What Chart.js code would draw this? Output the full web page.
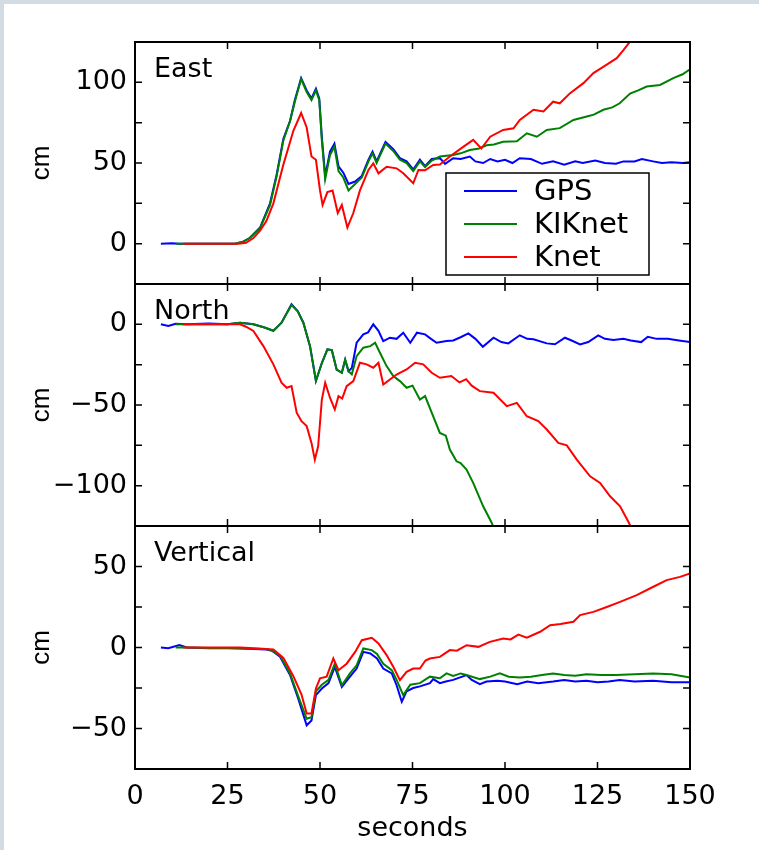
<!DOCTYPE html>
<html>
<head>
<meta charset="utf-8">
<script src="https://cdn.jsdelivr.net/npm/chart.js@4.4.0/dist/chart.umd.min.js"></script>
<style>
  html, body { margin: 0; padding: 0; background: #fff; }
  #page { position: relative; width: 759px; height: 850px; overflow: hidden; background: #fff; }
  #page canvas { position: absolute; left: 0; top: 0; }
  .edge-top { position: absolute; left: 0; top: 0; width: 759px; height: 4px; background: #d3dbe3; }
  .edge-left { position: absolute; left: 0; top: 0; width: 4px; height: 850px; background: #d3dbe3; }
</style>
</head>
<body>
<div id="page">
  <canvas id="east" width="759" height="850"></canvas>
  <canvas id="north" width="759" height="850"></canvas>
  <canvas id="vert" width="759" height="850"></canvas>
  <div class="edge-top"></div>
  <div class="edge-left"></div>
</div>
<script>
// ---- DATA (seconds, cm) ----
const seriesNames = ["GPS", "KIKnet", "Knet"];
const xTicks = [0, 25, 50, 75, 100, 125, 150];

const eastRange = [-25, 125];
const eastTicks = [0, 50, 100];
const eastMinor = [0, 25, 50, 75, 100];
const northRange = [-125, 25];
const northTicks = [-100, -50, 0];
const northMinor = [-100, -75, -50, -25, 0];
const vertRange = [-75, 75];
const vertTicks = [-50, 0, 50];
const vertMinor = [-50, -25, 0, 25, 50];

const eastGPS = [[7,0],[10,0.3],[12,0],[20,0],[27,0],[29,1],[31,3.5],[33.8,10],[36.5,25],[38.3,43],[40.1,65],[41.9,76],[43.2,89],[44.9,102.6],[46.4,95],[47.7,90],[48.9,96],[49.8,90],[50.5,66],[51.4,42],[52.7,57],[53.9,62],[55,48],[56.3,44],[57.7,37],[59.5,38.5],[61.3,42],[63.1,52],[64.2,57],[65.3,51],[67.7,63],[69.8,58.5],[71.6,53],[73.4,51],[75.2,46],[77,52],[78.4,48],[80.2,52.5],[82.4,53],[83.8,49.5],[86,53],[88,52.5],[90.5,54],[92,51],[94.1,50],[96,52.5],[98,51],[100,52],[102,50],[104,53],[107,52.5],[110,49.5],[113,51],[116,49],[119,51],[121,50],[124.4,51.5],[127,50],[130,49.5],[132,51],[135,51],[137,52.4],[140,51],[142.4,50],[145,50.5],[148,50],[150,50.5]];
const eastKIK = [[11,0],[20,0],[27,0],[29,1],[31,3.5],[33.8,9.5],[36.5,24],[38.3,42],[40.1,64],[41.9,76],[43.2,88],[44.9,102],[46.4,94],[47.7,89],[48.9,95],[49.8,89],[50.5,64],[51.4,40],[52.7,55],[53.9,60],[55,45],[56.3,41],[57.7,33],[59.5,37],[61.3,41],[63.1,51],[64.2,56],[65.3,50],[67.7,62],[69.8,57.5],[71.6,52],[73.4,50],[75.2,45],[77,51],[78.4,47.5],[80.2,51.5],[82.4,54],[86,55],[88,56],[90.5,58],[93,59],[95,61],[97,61.5],[99.5,63.2],[103.2,63.5],[105.9,68.4],[108.6,66.3],[111.3,70.5],[114.8,71.6],[118.5,76.7],[122.1,78.8],[124,80],[126.6,83],[129,84.5],[131,87],[133.8,93],[136,95],[138.3,97.4],[141.9,98.4],[145.5,102.6],[148,105],[150,108]];
const eastKnet = [[13,0],[20,0],[28,0],[30,0.5],[32,3.5],[33.8,8],[35.5,14],[37.4,25],[40.1,49],[42.8,70],[44.9,81],[46.4,72],[47.7,54],[48.9,52],[50,33],[50.7,24],[52,32],[53.4,33],[54.8,19],[55.9,24],[57.4,10],[59,19],[60.8,33],[63.1,45.7],[64.4,49.8],[65.8,43.6],[68,47.7],[70.7,46.7],[72.5,43.6],[75.2,37.4],[76.6,45.7],[78.4,45.5],[80.6,48.8],[82.4,49],[85.1,54],[88.7,60],[91.4,64.3],[93.6,59],[96,66.3],[99.5,70.5],[102.3,71.5],[104,76.7],[107.7,83],[110.4,82],[113,88],[114.8,87],[117.6,93.3],[121.2,99.5],[123.9,105.7],[127.5,111],[130.2,115],[132,120],[134.2,126.4],[137,131]];

const northGPS = [[7,0],[9,-1],[11,0.3],[14,0],[20,0.5],[25,0],[28.4,1],[32,0],[35,-2],[37.4,-4],[39.6,1],[42.3,12.4],[44,8],[45.5,1],[47.3,-13.5],[48.9,-35],[50.5,-24],[52,-15.5],[53.2,-16],[54.5,-28],[55.9,-30],[56.8,-22],[57.7,-29],[58.6,-27],[59.9,-11.4],[61.7,-6.2],[63,-5],[64.4,0],[65.8,-4],[67.1,-10.4],[68.9,-8.3],[70.7,-9],[72.5,-5.2],[74.4,-11.4],[76.2,-5.2],[78.4,-6.2],[80,-9],[81.5,-11.4],[84.2,-10.4],[86,-10],[88,-8],[90.1,-5.6],[92,-9],[94,-13.9],[96.9,-8.3],[99,-11],[100.9,-11.8],[104,-6.8],[106,-9],[107.7,-9.3],[111.3,-11.8],[113.5,-12.4],[116.2,-8.3],[118,-10],[120.3,-12.4],[122.5,-11],[125.2,-6.8],[127,-9],[129.3,-9.7],[132,-9],[134,-10],[136.8,-11],[138.6,-7.7],[141,-9],[144,-9],[147,-10],[150,-11]];
const northKIK = [[11,0],[14,0],[20,0],[25,0],[28.4,1],[32,0],[35,-2],[37.4,-4],[39.6,1],[42.3,12],[44,8],[45.5,1],[47.3,-13.5],[48.9,-35],[50.5,-24],[52,-15.5],[53.2,-16],[54.5,-28],[55.9,-30],[56.8,-22],[57.7,-29],[58.6,-31],[59.9,-19.7],[61.7,-14.5],[63.6,-13.5],[64.9,-11.4],[66.2,-17.6],[68,-25.9],[69.8,-32],[71.6,-35.2],[73.4,-39.3],[75,-38],[77,-46.6],[78.4,-44.5],[80.6,-57],[82.4,-67.3],[84,-69],[85.1,-77.6],[86.9,-84.9],[88,-86],[89.6,-90],[91.4,-98.3],[94.1,-112.8],[96.4,-123],[98,-132]];
const northKnet = [[13,0],[20,0],[28.4,0],[30,-1.5],[32,-4.1],[34.7,-13.5],[37.4,-24.8],[39.6,-36.2],[41,-39.3],[42.3,-38.3],[43.7,-54.8],[45,-60],[46.4,-63.1],[47.7,-73.5],[48.6,-83.9],[49.5,-75.6],[50.5,-46.6],[51.4,-36.2],[52.7,-45.5],[54,-52.8],[55,-44.5],[56,-46],[57.2,-38.3],[59,-35.2],[60.8,-23.8],[62.6,-24.8],[64.4,-26.9],[65.8,-23.8],[67.1,-37.3],[68.9,-34.2],[70.7,-31.1],[73.4,-28],[75.7,-23.8],[77.9,-24.8],[80.2,-30],[82.4,-33.1],[85.5,-32],[87.7,-36],[89.5,-34],[91,-38],[93.2,-41.4],[96.9,-42.4],[100.5,-50.7],[103.2,-48.7],[105.9,-57],[109,-60],[111.3,-65.2],[114.4,-73.5],[116.7,-75],[119.4,-83.9],[123,-94.2],[125.7,-98.3],[128.4,-106.6],[131.1,-112.8],[133.3,-122.2],[135,-130]];

const vertGPS = [[7,0],[9,-0.5],[12,1.5],[14,0],[20,-0.5],[25,-0.5],[28.4,-0.6],[32,-1],[35.5,-1.2],[37,-2],[39.2,-5.7],[41.9,-17],[44.1,-31.5],[46.4,-48],[47.7,-45],[48.9,-29.4],[50.5,-25.3],[52.3,-22],[54,-12],[55.9,-24.3],[58.1,-18],[59.9,-13],[61.7,-2.7],[63.6,-3.7],[65.4,-6.8],[67.1,-13],[69.4,-16],[70.7,-23.3],[72.1,-33.5],[73.4,-27],[75.2,-25],[77,-24],[79.7,-22],[80.6,-19.5],[82.4,-22],[84,-21],[86,-20],[89.6,-17],[91,-20],[93.2,-22.6],[95,-21],[98,-20.5],[100,-21],[103.3,-22.6],[106,-21],[109,-22],[113,-21],[116,-20],[119,-21],[122,-20.5],[125,-21.5],[128,-21],[131,-20],[135,-21],[140,-20.5],[145,-21.5],[150,-21.4]];
const vertKIK = [[11,0],[14,0],[20,-0.3],[25,-0.3],[28.4,-0.5],[32,-0.8],[35.5,-1],[37,-1.8],[39.2,-5],[41.9,-16],[44.1,-30],[46.4,-44],[47.7,-43],[48.9,-27],[50.5,-23],[52.3,-20],[54,-10],[55.9,-23.3],[58.1,-16],[59.9,-11],[61.7,-0.6],[64,-1.6],[65.4,-4],[67.1,-10],[69.4,-14],[70.7,-20],[72.5,-29.4],[74.4,-23],[77,-22],[79.7,-18],[82.4,-19],[84.2,-16],[86,-17.5],[88,-16],[89.6,-17],[93.2,-19.5],[96,-18],[98.6,-16],[101,-18],[104,-18.5],[107,-18],[110,-17],[113,-16],[116,-17],[119,-17.5],[122,-16.5],[126,-17],[130,-17],[135,-16.5],[140,-16],[145,-16.5],[150,-18.5]];
const vertKnet = [[13,0],[20,0],[28.4,0],[32,-0.5],[37.4,-1.2],[40.1,-6.4],[42.8,-17.7],[45,-29],[46.4,-40.7],[47.7,-40.7],[48.9,-25.3],[50,-19],[51.8,-18],[53.6,-6.8],[55,-14],[57.2,-10],[59.5,-2.7],[61.3,4.5],[64,6],[65.8,2.5],[68,-4.7],[69.8,-11.9],[71.6,-20.2],[73.4,-15],[75.2,-13],[77,-13],[78.5,-8],[79.7,-6.8],[82.4,-5.8],[85.1,-1.6],[87,-2],[89.6,1.4],[92.8,0.4],[95.9,3.5],[99.5,5.6],[101.5,5],[103.6,8],[105.9,6],[109.5,9.7],[112.2,13.8],[115,14.5],[118.5,15.9],[120.3,20],[123.9,22],[127.5,25],[131.1,28.2],[135.6,32.3],[140.1,37.5],[143.7,41.6],[147.3,43.6],[150,45.7]];

// ---- LAYOUT ----
const PAGE_W = 759, PAGE_H = 850;
const PLOT_LEFT = 135, PLOT_RIGHT = 690;
const TICK = 7;
const colors = ["#0000ff", "#008000", "#ff0000"];
const FONT = '"DejaVu Sans", sans-serif';

const framePlugin = {
  id: "frame",
  afterDatasetsDraw(chart, args, opts) {
    const { ctx, chartArea: a, scales } = chart;
    ctx.save();
    ctx.strokeStyle = "#000";
    ctx.lineWidth = 1.5;
    ctx.beginPath();
    xTicks.forEach(v => {
      const px = scales.x.getPixelForValue(v);
      ctx.moveTo(px, a.top); ctx.lineTo(px, a.top + TICK);
      ctx.moveTo(px, a.bottom); ctx.lineTo(px, a.bottom - TICK);
    });
    opts.minor.forEach(v => {
      const py = scales.y.getPixelForValue(v);
      ctx.moveTo(a.left, py); ctx.lineTo(a.left + TICK, py);
      ctx.moveTo(a.right, py); ctx.lineTo(a.right - TICK, py);
    });
    ctx.stroke();
    ctx.lineWidth = 2;
    ctx.strokeRect(a.left, a.top, a.right - a.left, a.bottom - a.top);

    ctx.fillStyle = "#000";
    ctx.font = "27px " + FONT;
    ctx.textBaseline = "alphabetic";
    ctx.fillText(opts.name, a.left + 19, a.top + 35);

    if (opts.legend) {
      const bx = a.right - 244, by = a.top + 131, bw = 203, bh = 102;
      ctx.fillStyle = "#fff";
      ctx.fillRect(bx, by, bw, bh);
      ctx.lineWidth = 1.5;
      ctx.strokeRect(bx, by, bw, bh);
      ctx.font = "29px " + FONT;
      ctx.textBaseline = "middle";
      seriesNames.forEach((name, i) => {
        const ds = chart.data.datasets.find(d => d.label === name);
        const y = by + 18 + i * 33;
        ctx.strokeStyle = ds.borderColor;
        ctx.lineWidth = 2;
        ctx.beginPath();
        ctx.moveTo(bx + 18, y); ctx.lineTo(bx + 71, y);
        ctx.stroke();
        ctx.fillStyle = "#000";
        ctx.fillText(name, bx + 88, y + 1);
      });
    }
    ctx.restore();
  }
};

function makePanel(id, name, series, range, ticks, minor, top, bottom, showX, legend) {
  const datasets = series.map((pts, i) => ({
    label: seriesNames[i],
    data: pts.map(([x, y]) => ({ x, y })),
    borderColor: colors[i],
    borderWidth: 2,
    pointRadius: 0,
    tension: 0,
    fill: false,
    order: 3 - i
  }));
  return new Chart(document.getElementById(id), {
    type: "line",
    data: { datasets },
    plugins: [framePlugin],
    options: {
      responsive: false,
      animation: false,
      devicePixelRatio: 1,
      layout: {
        padding: { left: 0, right: PAGE_W - PLOT_RIGHT, top: top, bottom: showX ? 0 : PAGE_H - bottom }
      },
      plugins: {
        legend: { display: false },
        tooltip: { enabled: false },
        frame: { name, minor, legend }
      },
      scales: {
        x: {
          type: "linear",
          min: 0, max: 150,
          display: showX,
          afterBuildTicks: s => { s.ticks = xTicks.map(v => ({ value: v })); },
          afterFit: s => { s.height = showX ? PAGE_H - bottom : 0; },
          grid: { display: false, drawTicks: false },
          border: { display: false },
          ticks: { color: "#000", font: { family: FONT, size: 27 }, padding: 12, maxRotation: 0 },
          title: { display: true, text: "seconds", color: "#000", font: { family: FONT, size: 27 }, padding: { top: 0, bottom: 5 } }
        },
        y: {
          type: "linear",
          min: range[0], max: range[1],
          afterBuildTicks: s => { s.ticks = ticks.map(v => ({ value: v })); },
          afterFit: s => { s.width = PLOT_LEFT; },
          grid: { display: false, drawTicks: false },
          border: { display: false },
          ticks: {
            color: "#000", font: { family: FONT, size: 27 }, padding: 8,
            callback: v => (v < 0 ? "\u2212" + Math.abs(v) : String(v))
          },
          title: { display: true, text: "cm", color: "#000", font: { family: '"Liberation Sans", Arial, sans-serif', size: 26 }, padding: { top: 26, bottom: 0 } }
        }
      }
    }
  });
}

makePanel("east", "East", [eastGPS, eastKIK, eastKnet], eastRange, eastTicks, eastMinor, 42, 284, false, true);
makePanel("north", "North", [northGPS, northKIK, northKnet], northRange, northTicks, northMinor, 284, 526, false, false);
makePanel("vert", "Vertical", [vertGPS, vertKIK, vertKnet], vertRange, vertTicks, vertMinor, 526, 769, true, false);
</script>
</body>
</html>
